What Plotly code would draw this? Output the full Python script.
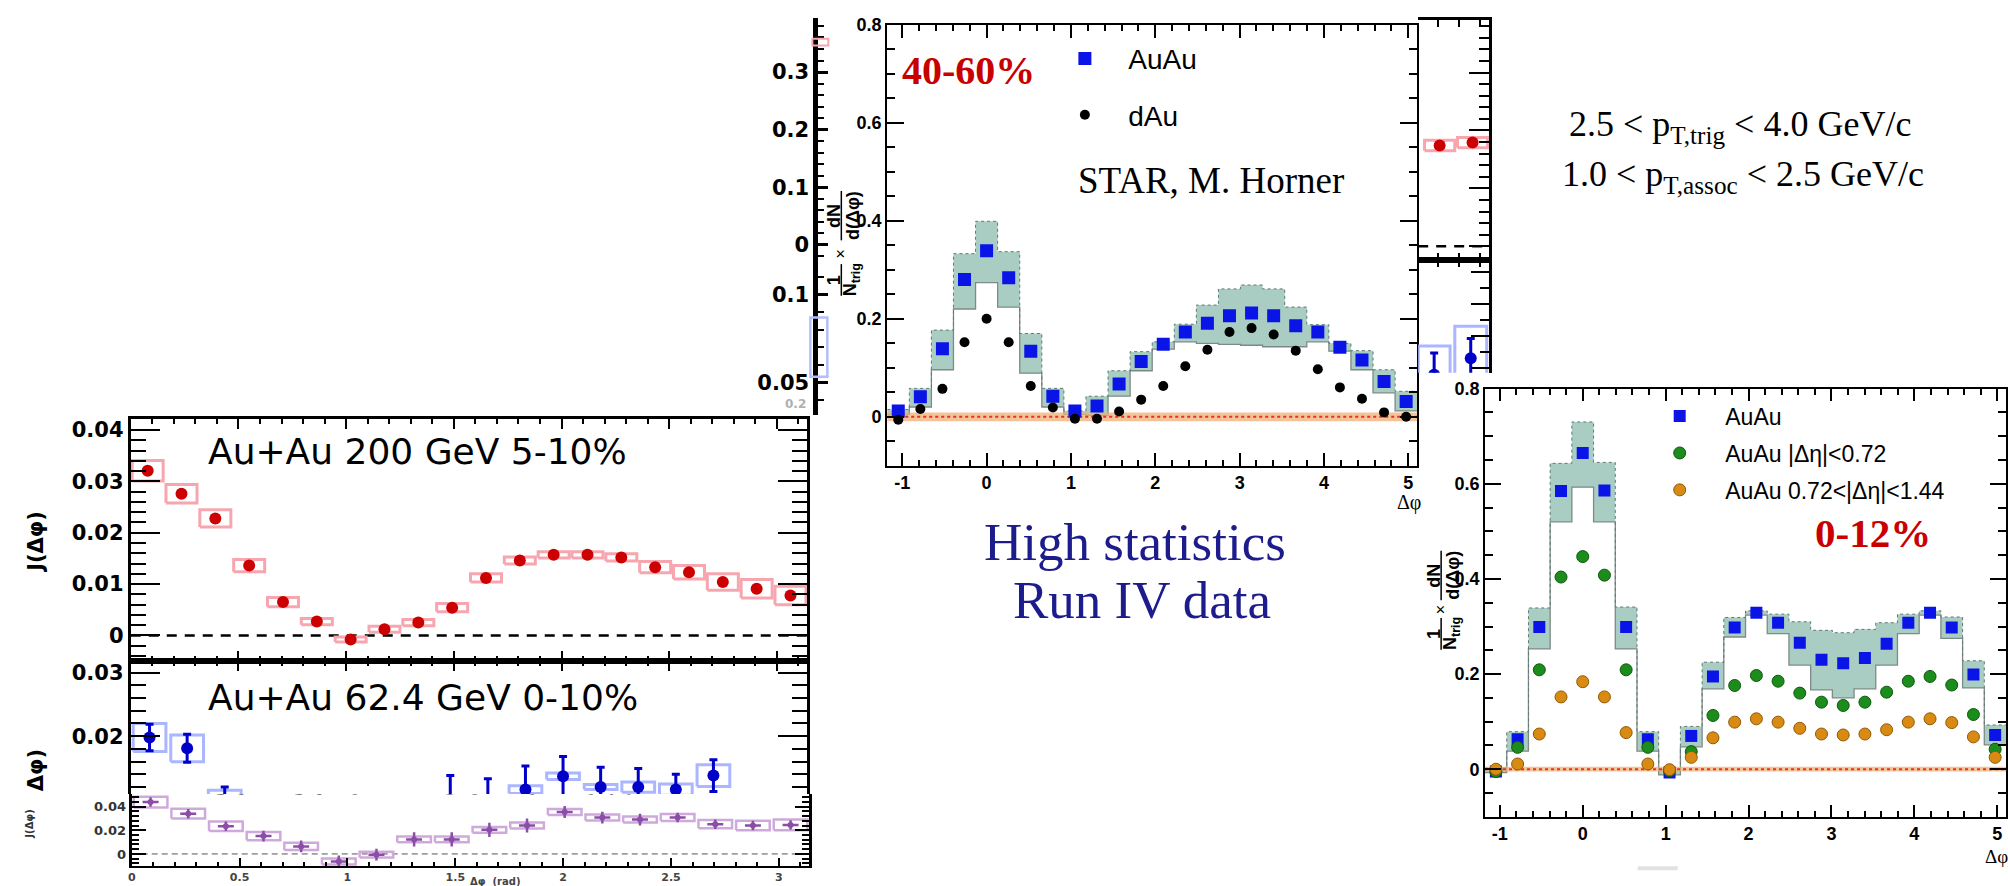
import numpy as np
import plotly.graph_objects as go

W, H = 2008, 886
PI = np.pi

# ---------------- 40-60% centrality, bins of pi/12 ----------------
mid_bin = list(range(-4, 20))
mid_auau = [0.012, 0.041, 0.139, 0.280, 0.339, 0.284, 0.134, 0.042, 0.012, 0.022,
            0.067, 0.113, 0.148, 0.173, 0.191, 0.206, 0.212, 0.206, 0.186, 0.173,
            0.142, 0.116, 0.072, 0.031]
mid_dau = [-0.006, 0.016, 0.057, 0.152, 0.200, 0.152, 0.063, 0.019, -0.004, -0.004,
           0.011, 0.035, 0.063, 0.103, 0.137, 0.173, 0.181, 0.168, 0.135, 0.097,
           0.060, 0.037, 0.009, 0.000]
mid_sys_hi = [0.015, 0.058, 0.177, 0.333, 0.399, 0.337, 0.170, 0.058, 0.012, 0.042,
              0.094, 0.133, 0.153, 0.189, 0.228, 0.261, 0.269, 0.261, 0.224, 0.188,
              0.150, 0.135, 0.096, 0.052]
mid_sys_lo = [0.005, 0.020, 0.096, 0.220, 0.274, 0.224, 0.089, 0.020, 0.005, 0.003,
              0.042, 0.094, 0.138, 0.153, 0.150, 0.148, 0.146, 0.143, 0.143, 0.153,
              0.134, 0.096, 0.049, 0.012]

# ---------------- 0-12% centrality, bins of pi/12 ----------------
cen_auau = [-0.005, 0.063, 0.299, 0.585, 0.665, 0.586, 0.299, 0.063, -0.007, 0.070,
            0.195, 0.298, 0.329, 0.308, 0.266, 0.230, 0.223, 0.234, 0.264, 0.308,
            0.329, 0.298, 0.199, 0.072]
cen_near = [-0.005, 0.046, 0.209, 0.404, 0.447, 0.408, 0.209, 0.046, -0.003, 0.037,
            0.113, 0.176, 0.197, 0.185, 0.160, 0.141, 0.134, 0.141, 0.162, 0.185,
            0.195, 0.177, 0.115, 0.042]
cen_far = [0.000, 0.011, 0.074, 0.152, 0.184, 0.152, 0.077, 0.011, -0.001, 0.025,
           0.066, 0.099, 0.106, 0.099, 0.086, 0.074, 0.072, 0.074, 0.083, 0.099,
           0.106, 0.098, 0.068, 0.025]
cen_sys_hi = [0.003, 0.079, 0.339, 0.643, 0.730, 0.645, 0.341, 0.079, -0.001, 0.090,
              0.225, 0.319, 0.333, 0.326, 0.310, 0.292, 0.287, 0.294, 0.308, 0.326,
              0.333, 0.320, 0.228, 0.093]
cen_sys_lo = [-0.007, 0.038, 0.253, 0.520, 0.593, 0.520, 0.253, 0.038, -0.012, 0.047,
              0.169, 0.278, 0.324, 0.285, 0.219, 0.167, 0.150, 0.169, 0.219, 0.285,
              0.324, 0.275, 0.171, 0.051]

# ---------------- J(dphi), Au+Au 200 GeV 5-10%, bins of pi/20 ----------------
j200 = [0.0321, 0.0276, 0.0228, 0.0136, 0.0065, 0.0027, -0.0008, 0.0012, 0.0025, 0.0054,
        0.0112, 0.0146, 0.0157, 0.0157, 0.0152, 0.0133, 0.0123, 0.0104, 0.0091, 0.0078]
j200_sys = [0.0020, 0.0018, 0.0017, 0.0012, 0.0009, 0.0006, 0.0005, 0.0006, 0.0006, 0.0008,
            0.0008, 0.0007, 0.0006, 0.0006, 0.0007, 0.0011, 0.0013, 0.0016, 0.0018, 0.0018]

# ---------------- J(dphi), Au+Au 62.4 GeV 0-10%, bins of pi/18 ----------------
j62_bin = [0, 1, 2, 8, 9, 10, 11, 12, 13, 14, 15]
j62 = [0.0198, 0.0181, 0.0098, 0.0095, 0.0095, 0.0116, 0.0137, 0.0120, 0.0120, 0.0116, 0.0138]
j62_stat = [0.0021, 0.0022, 0.0022, 0.0043, 0.0038, 0.0037, 0.0031, 0.0031, 0.0029, 0.0024, 0.0025]
j62_sys = [0.0022, 0.0021, 0.0017, 0.0008, 0.0008, 0.0006, 0.0005, 0.0004, 0.0008, 0.0009, 0.0017]

# ---------------- J(dphi), Cu+Cu 62.4 GeV 0-10%, bins of pi/18 ----------------
jcu = [0.0439, 0.0341, 0.0235, 0.0151, 0.0064, -0.0064, -0.0006, 0.0123, 0.0123, 0.0204,
       0.0241, 0.0355, 0.0308, 0.0291, 0.0308, 0.0252, 0.0241, 0.0246]
jcu_stat = [0.0040, 0.0040, 0.0040, 0.0045, 0.0050, 0.0050, 0.0050, 0.0060, 0.0060, 0.0060,
            0.0060, 0.0050, 0.0050, 0.0050, 0.0040, 0.0040, 0.0040, 0.0040]
jcu_sys = [0.0045, 0.0042, 0.0040, 0.0035, 0.0030, 0.0025, 0.0025, 0.0025, 0.0025, 0.0025,
           0.0025, 0.0025, 0.0025, 0.0025, 0.0030, 0.0035, 0.0040, 0.0045]

# ---------------- edge fragments of neighbouring panels ----------------
frag_red_bin = [18, 19]
frag_red = [0.0174, 0.0179]
frag_red_sys = [0.0009, 0.0009]
frag_blue_bin = [16, 17]
frag_blue = [0.0139, 0.0165]
frag_blue_stat = [0.0034, 0.0031]
frag_blue_sys = [0.0045, 0.0050]

xtick_vals = [-1, 0, 1, 2, 3, 4, 5]
xtick_text = ["-1", "0", "1", "2", "3", "4", "5"]

SANS = "Liberation Sans, Arial, sans-serif"
NARROW = "Liberation Sans Narrow, Arial Narrow, Liberation Sans, sans-serif"
SERIF = "Liberation Serif, Times New Roman, serif"
WIDE = "DejaVu Sans, Verdana, sans-serif"

BLUE = "#0a14e6"
RED = "#c80000"
TEAL = "#a9cdc3"
NB = "\u00a0"


def xdom(a, b):
    return [a / W, b / W]


def ydom(top, bottom):
    return [1 - bottom / H, 1 - top / H]


def px(x):
    return x / W


def py(y):
    return 1 - y / H


fig = go.Figure()


def add(tr, xa, ya):
    tr.update(xaxis=xa, yaxis=ya, hoverinfo="skip")
    if tr.showlegend is None:
        tr.update(showlegend=False)
    fig.add_trace(tr)


def steps(xc, vals):
    xc = np.asarray(xc, float)
    h = (xc[1] - xc[0]) / 2
    return np.append(xc - h, xc[-1] + h), np.append(vals, vals[-1])


def add_band(xc, lo, hi, xa, ya):
    xs, ylo = steps(xc, lo)
    _, yhi = steps(xc, hi)
    add(go.Scatter(x=xs, y=ylo, mode="lines",
                   line=dict(shape="hv", color="#7d8a86", width=1.3)), xa, ya)
    add(go.Scatter(x=xs, y=yhi, mode="lines", fill="tonexty", fillcolor=TEAL,
                   line=dict(shape="hv", color="#5c7a72", width=1, dash="dot")), xa, ya)


def add_zero_band(xr, half, xa, ya):
    add(go.Scatter(x=[xr[0], xr[1], xr[1], xr[0]], y=[-half, -half, half, half],
                   mode="lines", fill="toself", fillcolor="rgba(240,176,118,0.75)",
                   line=dict(width=0)), xa, ya)
    add(go.Scatter(x=xr, y=[0, 0], mode="lines",
                   line=dict(color="#e6321e", width=2, dash="dot")), xa, ya)


def box_path(xc, yc, dy, hw):
    xs, ys = [], []
    for x, y, d in zip(xc, yc, dy):
        xs += [x - hw, x + hw, x + hw, x - hw, x - hw, None]
        ys += [y - d, y - d, y + d, y + d, y - d, None]
    return xs, ys


# ---------------- 40-60% panel ----------------
XR = [-3 * PI / 8, 13 * PI / 8]
mid_x = np.array(mid_bin) * PI / 12
add_band(mid_x, mid_sys_lo, mid_sys_hi, "x", "y")
add_zero_band(XR, 0.009, "x", "y")
add(go.Scatter(x=mid_x, y=mid_auau, mode="markers", name=NB * 3 + "AuAu",
               marker=dict(symbol="square", size=13, color=BLUE),
               showlegend=True, legend="legend", legendgroup="m1"), "x", "y")
add(go.Scatter(x=mid_x, y=mid_dau, mode="markers", name=NB * 3 + "dAu",
               marker=dict(symbol="circle", size=10, color="black"),
               showlegend=True, legend="legend", legendgroup="m2"), "x", "y")

# ---------------- 0-12% panel ----------------
cen_x = np.array(mid_bin) * PI / 12
add_band(cen_x, cen_sys_lo, cen_sys_hi, "x2", "y2")
add_zero_band(XR, 0.005, "x2", "y2")
add(go.Scatter(x=cen_x, y=cen_auau, mode="markers", name=NB * 4 + "AuAu",
               marker=dict(symbol="square", size=12, color=BLUE),
               showlegend=True, legend="legend2", legendgroup="c1"), "x2", "y2")
add(go.Scatter(x=cen_x, y=cen_near, mode="markers", name=NB * 4 + "AuAu |Δη|&lt;0.72",
               marker=dict(symbol="circle", size=12, color="#1c8c1c",
                           line=dict(color="#0d5a0d", width=1)),
               showlegend=True, legend="legend2", legendgroup="c2"), "x2", "y2")
add(go.Scatter(x=cen_x, y=cen_far, mode="markers", name=NB * 4 + "AuAu 0.72&lt;|Δη|&lt;1.44",
               marker=dict(symbol="circle", size=12, color="#d98a12",
                           line=dict(color="#8f5a08", width=1)),
               showlegend=True, legend="legend2", legendgroup="c3"), "x2", "y2")

# ---------------- Au+Au 200 GeV panel ----------------
j200_x = (np.arange(len(j200)) + 0.5) * PI / 20
add(go.Scatter(x=[0, PI], y=[0, 0], mode="lines",
               line=dict(color="black", width=2.5, dash="10px,8px")), "x3", "y3")
bx, by = box_path(j200_x, j200, j200_sys, 0.072)
add(go.Scatter(x=bx, y=by, mode="lines", line=dict(color="#f7a6b0", width=3)), "x3", "y3")
add(go.Scatter(x=j200_x, y=j200, mode="markers",
               marker=dict(color="#cc0000", size=12)), "x3", "y3")

# ---------------- Au+Au 62.4 GeV panel ----------------
j62_x = (np.array(j62_bin) + 0.5) * PI / 18
bx, by = box_path(j62_x, j62, j62_sys, 0.076)
add(go.Scatter(x=bx, y=by, mode="lines", line=dict(color="#aab6ff", width=3)), "x4", "y4")
add(go.Scatter(x=j62_x, y=j62, mode="markers",
               error_y=dict(type="data", array=j62_stat, color="#0000c8", thickness=3, width=4),
               marker=dict(color="#0000c8", size=12)), "x4", "y4")

# ---------------- Cu+Cu 62.4 GeV panel ----------------
jcu_x = (np.arange(len(jcu)) + 0.5) * PI / 18
add(go.Scatter(x=[0, PI], y=[0, 0], mode="lines",
               line=dict(color="#555555", width=1, dash="6px,4px")), "x5", "y5")
bx, by = box_path(jcu_x, jcu, jcu_sys, 0.078)
add(go.Scatter(x=bx, y=by, mode="lines", line=dict(color="#cfa9dc", width=2.5)), "x5", "y5")
add(go.Scatter(x=jcu_x, y=jcu, mode="markers",
               error_y=dict(type="data", array=jcu_stat, color="#8a4ea6", thickness=2.5, width=0),
               error_x=dict(type="constant", value=0.037, color="#8a4ea6", thickness=2.5, width=0),
               marker=dict(color="#8a4ea6", size=6)), "x5", "y5")
# title of this panel, mostly hidden under the panel above
add(go.Scatter(x=[0.342], y=[0.0585], mode="text", text=["Cu+Cu 62.4 GeV 0-10%"],
               textposition="middle right", cliponaxis=True,
               textfont=dict(family=WIDE, size=36, color="black")), "x5", "y5")

# ---------------- cut-off axis pieces left of the 40-60% panel ----------------
add(go.Scatter(x=[], y=[], mode="markers"), "x6", "y6")
add(go.Scatter(x=[], y=[], mode="markers"), "x7", "y7")

# ---------------- fragment at the 200 GeV panel edge ----------------
fr_x = (np.array(frag_red_bin) + 0.5) * PI / 20
add(go.Scatter(x=[PI - 0.338, PI], y=[0, 0], mode="lines",
               line=dict(color="black", width=2.5, dash="10px,8px")), "x8", "y8")
bx, by = box_path(fr_x, frag_red, frag_red_sys, 0.072)
add(go.Scatter(x=bx, y=by, mode="lines", line=dict(color="#f7a6b0", width=3)), "x8", "y8")
add(go.Scatter(x=fr_x, y=frag_red, mode="markers", marker=dict(color="#cc0000", size=12)), "x8", "y8")

fb_x = (np.array(frag_blue_bin) + 0.5) * PI / 18
bx, by = box_path(fb_x, frag_blue, frag_blue_sys, 0.076)
add(go.Scatter(x=bx, y=by, mode="lines", line=dict(color="#aab6ff", width=3)), "x9", "y9")
add(go.Scatter(x=fb_x, y=frag_blue, mode="markers",
               error_y=dict(type="data", array=frag_blue_stat, color="#0000c8", thickness=3, width=4),
               marker=dict(color="#0000c8", size=12)), "x9", "y9")


# ---------------- axes ----------------
def ax(**kw):
    d = dict(showgrid=False, zeroline=False, showline=True, linecolor="black",
             ticks="inside", tickcolor="black", fixedrange=True)
    d.update(kw)
    return d


def minor(dtick, length, width=1.5):
    return dict(dtick=dtick, tick0=0, ticklen=length, ticks="inside",
                tickcolor="black", tickwidth=width)


tick_narrow = dict(family=NARROW, size=18, weight="bold", color="black")
tick_wide = dict(family=WIDE, size=21, weight="bold", color="black")
tick_strip = dict(family=WIDE, size=21, weight="bold", color="black")

axes = dict(
    xaxis=ax(domain=xdom(885, 1416), anchor="y", range=XR, linewidth=2, mirror="ticks",
             tickmode="array", tickvals=xtick_vals, ticktext=xtick_text, ticklen=13,
             tickwidth=1.5, tickfont=tick_narrow, minor=minor(0.2, 6)),
    yaxis=ax(domain=ydom(15, 461), anchor="x", range=[-0.1, 0.8], dtick=0.2, tick0=0,
             ticklen=17, tickwidth=1.5, linewidth=2, mirror="ticks", tickfont=tick_narrow,
             minor=minor(0.05, 8)),
    xaxis2=ax(domain=xdom(1484, 2006), anchor="y2", range=XR, linewidth=2, mirror="ticks",
              tickmode="array", tickvals=xtick_vals, ticktext=xtick_text, ticklen=12,
              tickwidth=1.5, tickfont=tick_narrow, minor=minor(0.2, 6)),
    yaxis2=ax(domain=ydom(383, 816), anchor="x2", range=[-0.1, 0.8], dtick=0.2, tick0=0,
              ticklen=16, tickwidth=1.5, linewidth=2, mirror="ticks", tickfont=tick_narrow,
              minor=minor(0.05, 8)),
    xaxis3=ax(domain=xdom(127, 805), anchor="y3", range=[0, PI], dtick=0.5, tick0=0,
              showticklabels=False, ticklen=10, tickwidth=2, linewidth=3, mirror="ticks",
              minor=minor(0.1, 5, 2)),
    yaxis3=ax(domain=ydom(414, 658), anchor="x3", range=[-0.0049, 0.0421], dtick=0.01, tick0=0,
              ticklen=29, tickwidth=2, linewidth=3, mirror="ticks", tickfont=tick_wide,
              minor=minor(0.002, 15, 2)),
    xaxis4=ax(domain=xdom(127, 805), anchor="y4", side="top", range=[0, PI], dtick=0.5, tick0=0,
              showticklabels=False, ticklen=10, tickwidth=2, linewidth=3,
              minor=minor(0.1, 5, 2)),
    yaxis4=ax(domain=ydom(658, 793), anchor="x4", range=[0.0109, 0.0319], dtick=0.01, tick0=0,
              ticklen=29, tickwidth=2, linewidth=3, mirror="ticks", tickfont=tick_wide,
              minor=minor(0.002, 15, 2)),
    xaxis5=ax(domain=xdom(128, 807), anchor="y5", range=[0, PI], dtick=0.5, tick0=0,
              ticklen=8, tickwidth=1.5, linewidth=2,
              tickfont=dict(family=WIDE, size=11, weight="bold", color="#444444"),
              minor=minor(0.1, 4)),
    yaxis5=ax(domain=ydom(793, 866), anchor="x5", range=[-0.0104, 0.0507], dtick=0.02, tick0=0,
              ticklen=14, tickwidth=1.5, linewidth=3, mirror="ticks",
              tickfont=dict(family=WIDE, size=13, weight="bold", color="#333333"),
              minor=minor(0.004, 7)),
    xaxis6=dict(domain=xdom(816, 826), anchor="y6", visible=False, range=[0, 1], fixedrange=True),
    yaxis6=ax(domain=ydom(8, 252), anchor="x6", range=[-0.0249, 0.394], dtick=0.1, tick0=0,
              ticklen=10, tickwidth=2.5, linewidth=5, tickfont=tick_strip,
              minor=minor(0.02, 6, 2)),
    xaxis7=dict(domain=xdom(816, 826), anchor="y7", visible=False, range=[0, 1], fixedrange=True),
    yaxis7=ax(domain=ydom(252, 410), anchor="x7", range=[0.0316, 0.1198], tickmode="array",
              tickvals=[0.05, 0.1], ticktext=["0.05", "0.1"], ticklen=10, tickwidth=2.5,
              linewidth=5, tickfont=tick_strip, minor=minor(0.01, 6, 2)),
    xaxis8=ax(domain=xdom(1417, 1488), anchor="y8", side="top", range=[PI - 0.338, PI],
              dtick=0.1, tick0=0, ticklen=7, tickwidth=2, linewidth=3, mirror="ticks",
              showticklabels=False),
    yaxis8=ax(domain=ydom(10, 253), anchor="x8", side="right", range=[-0.0024, 0.0391],
              dtick=0.01, tick0=0, ticklen=20, tickwidth=2, linewidth=3, showticklabels=False,
              minor=minor(0.002, 10, 2)),
    xaxis9=ax(domain=xdom(1417, 1488), anchor="y9", side="top", range=[PI - 0.338, PI],
              dtick=0.1, tick0=0, ticklen=7, tickwidth=2, linewidth=3, showticklabels=False),
    yaxis9=ax(domain=ydom(253, 367), anchor="x9", side="right", range=[0.0142, 0.0319],
              dtick=0.005, tick0=0, ticklen=18, tickwidth=2, linewidth=3, showticklabels=False,
              minor=minor(0.0025, 9, 2)),
)

# ---------------- text ----------------
ann = []


def label(x, y, text, size, family=SANS, color="black", weight="normal",
          xanchor="center", yanchor="middle", angle=0):
    ann.append(dict(x=px(x), y=py(y), xref="paper", yref="paper", text=text,
                    showarrow=False, xanchor=xanchor, yanchor=yanchor, textangle=angle,
                    font=dict(size=size, family=family, color=color, weight=weight)))


shapes = []


def vbar(x, yc, length, width=1.5):
    shapes.append(dict(type="line", xref="paper", yref="paper",
                       x0=px(x), x1=px(x), y0=py(yc - length / 2), y1=py(yc + length / 2),
                       line=dict(color="black", width=width)))


def yield_label(xbar, y_dn, y_cross, y_one):
    # 1/N_trig x dN/d(dphi), written bottom-to-top
    vbar(xbar, y_dn, 50)
    label(xbar - 8, y_dn, "<b>dN</b>", 18, angle=-90)
    label(xbar + 11, y_dn, "<b>d(Δφ)</b>", 18, angle=-90)
    label(xbar - 1, y_cross, "×", 16, angle=-90)
    vbar(xbar, y_one, 32)
    label(xbar - 7, y_one, "<b>1</b>", 18, angle=-90)
    label(xbar + 11, y_one, "<b>N</b><sub><b>trig</b></sub>", 18, angle=-90)


# 40-60% panel
label(898, 61, "40-60%", 40, SERIF, RED, "bold", xanchor="left")
label(1074, 172, "STAR, M. Horner", 37, SERIF, xanchor="left")
label(1408, 498, "Δφ", 20, SERIF)
yield_label(839, 208, 247, 273)

# 0-12% panel
label(1813, 529, "0-12%", 41, SERIF, RED, "bold", xanchor="left")
label(1996, 856, "Δφ", 19, SERIF)
yield_label(1440, 572, 607, 631)

# kinematic cuts and run note
label(1739, 118, "2.5 &lt; p<sub>T,trig</sub> &lt; 4.0 GeV/c", 36, SERIF)
label(1742, 168, "1.0 &lt; p<sub>T,assoc</sub> &lt; 2.5 GeV/c", 36, SERIF)
label(1133, 538, "High statistics", 53, SERIF, "#1c1c8c")
label(1140, 597, "Run IV data", 53, SERIF, "#1c1c8c")

# J(dphi) panels
label(202, 447, "Au+Au 200 GeV 5-10%", 36, WIDE, xanchor="left")
label(202, 695, "Au+Au 62.4 GeV 0-10%", 36, WIDE, xanchor="left")
label(32, 538, "J(Δφ)", 21, WIDE, weight="bold", angle=-90)
label(32, 769, "Δφ)", 21, WIDE, weight="bold", angle=-90)
label(26, 823, "J(Δφ)", 10, WIDE, "#333333", "bold", angle=-90)
label(492, 881, "Δφ&nbsp;&nbsp;(rad)", 10, WIDE, "#444444", "bold")
label(793, 398, "0.2", 12, WIDE, "#b0b0b0", "bold")

# small cut-off box edges of neighbouring panels
shapes.append(dict(type="rect", xref="paper", yref="paper", x0=px(808), x1=px(825),
                   y0=py(371), y1=py(311), line=dict(color="#b4bdff", width=2.5)))
shapes.append(dict(type="rect", xref="paper", yref="paper", x0=px(810), x1=px(826),
                   y0=py(36), y1=py(29), line=dict(color="#f7a6b0", width=2)))
shapes.append(dict(type="rect", xref="paper", yref="paper", x0=px(1637), x1=px(1677),
                   y0=py(870), y1=py(866), fillcolor="#e2e2e2", line=dict(width=0)))

legend_common = dict(bgcolor="rgba(0,0,0,0)", borderwidth=0, xanchor="left", yanchor="top",
                     traceorder="grouped", itemclick=False, itemdoubleclick=False,
                     itemwidth=30)

fig.update_layout(
    width=W, height=H, autosize=False,
    margin=dict(l=0, r=0, t=0, b=0),
    paper_bgcolor="white", plot_bgcolor="rgba(0,0,0,0)",
    showlegend=True,
    legend=dict(x=px(1063), y=py(24), tracegroupgap=17,
                font=dict(family=SANS, size=28, color="black"), **legend_common),
    legend2=dict(x=px(1659), y=py(389), tracegroupgap=4,
                 font=dict(family=SANS, size=23, color="black"), **legend_common),
    annotations=ann,
    shapes=shapes,
    **axes,
)

fig.write_html("out.html")
